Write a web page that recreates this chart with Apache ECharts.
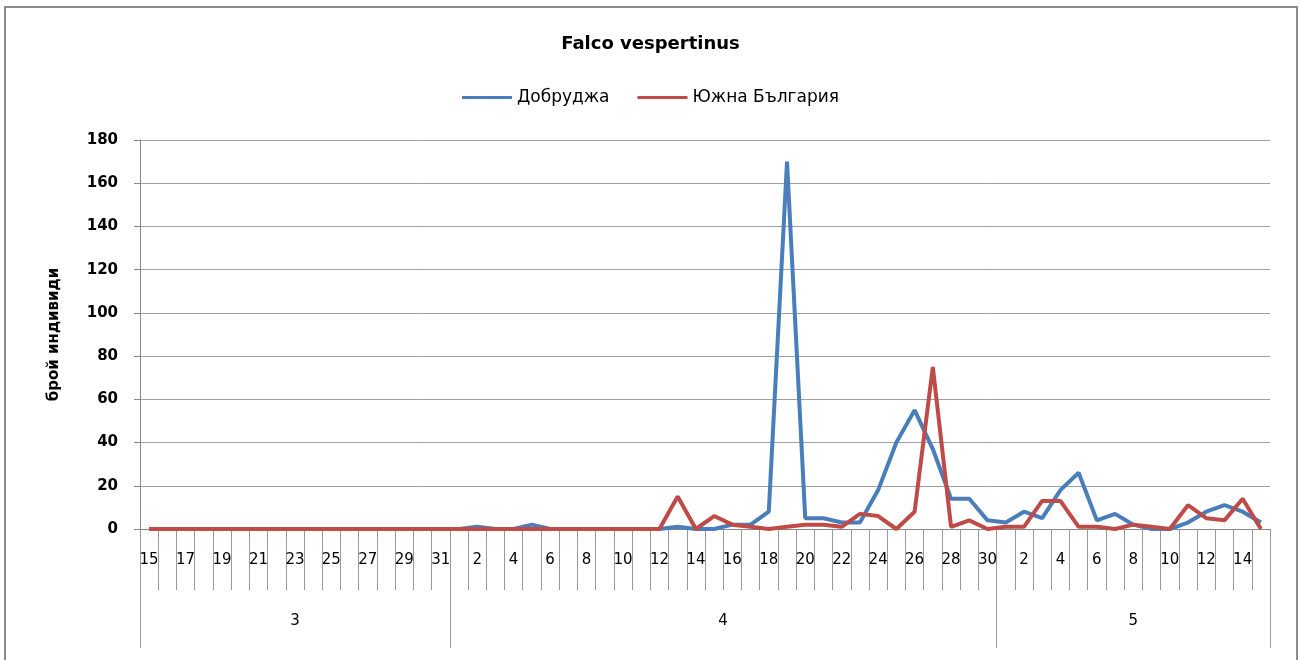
<!DOCTYPE html>
<html>
<head>
<meta charset="utf-8">
<script src="https://cdn.jsdelivr.net/npm/echarts@6/dist/echarts.min.js"></script>
<style>
html,body{margin:0;padding:0;background:#fff;}
#chart{width:1301px;height:660px;}
</style>
</head>
<body>
<div id="chart"></div>
<script>
// Days: 15-31 March, 1-30 April, 1-15 May
const days = [
  '15','16','17','18','19','20','21','22','23','24','25','26','27','28','29','30','31',
  '1','2','3','4','5','6','7','8','9','10','11','12','13','14','15','16','17','18','19','20','21','22','23','24','25','26','27','28','29','30',
  '1','2','3','4','5','6','7','8','9','10','11','12','13','14','15'
];
const months = ['3','4','5'];
const monthLengths = [17, 30, 15];
const yTicks = [0,20,40,60,80,100,120,140,160,180];

const dobrudzha = [
  0,0,0,0,0,0,0,0,0,0,0,0,0,0,0,0,0,
  0,1,0,0,2,0,0,0,0,0,0,0,1,0,0,2,2,8,170,5,5,3,3,18,40,55,37,14,14,4,
  3,8,5,18,26,4,7,2,0,0,3,8,11,8,3
];
const yuzhnaBulgaria = [
  0,0,0,0,0,0,0,0,0,0,0,0,0,0,0,0,0,
  0,0,0,0,0,0,0,0,0,0,0,0,15,0,6,2,1,0,1,2,2,1,7,6,0,8,75,1,4,0,
  1,1,13,13,1,1,0,2,1,0,11,5,4,14,0
];
const seriesNames = ['Добруджа', 'Южна България'];
const colors = ['#4a7ebb', '#be4b48'];

// month axis: ticks at month boundaries, label in middle of each month
const monthStarts = [];
let acc = 0;
monthLengths.forEach(l => { monthStarts.push(acc); acc += l; });
const monthCats = days.map((d, i) => String(i));
function monthLabel(idx) {
  for (let m = 0; m < months.length; m++) {
    const s = monthStarts[m], l = monthLengths[m];
    if (l % 2 === 1) {
      if (idx === s + (l - 1) / 2) return '{c|' + months[m] + '}';
    } else {
      if (idx === s + l / 2 - 1) return '{l|' + months[m] + '}';
    }
  }
  return '';
}

const chart = echarts.init(document.getElementById('chart'));
const fontMain = '"DejaVu Sans", "Liberation Sans", sans-serif';
chart.setOption({
  backgroundColor: '#fff',
  animation: false,
  title: {
    text: 'Falco vespertinus',
    left: 'center',
    top: 30,
    textStyle: { fontFamily: fontMain, fontSize: 18, fontWeight: 'bold', color: '#000' }
  },
  legend: {
    top: 84,
    left: 'center',
    itemWidth: 50,
    itemHeight: 3,
    itemGap: 28,
    icon: 'rect',
    textStyle: { fontFamily: fontMain, fontSize: 17, color: '#000' },
    data: seriesNames
  },
  grid: { left: 140, right: 31, top: 140, bottom: 131, containLabel: false },
  graphic: [{
    type: 'rect',
    shape: { x: 5, y: 7, width: 1292, height: 660 },
    style: { fill: 'none', stroke: '#8c8c8c', lineWidth: 2 },
    silent: true
  }],
  xAxis: [{
    type: 'category',
    data: days,
    boundaryGap: true,
    axisLine: { show: true, lineStyle: { color: '#888', width: 1 } },
    axisTick: { show: true, interval: 0, length: 61, lineStyle: { color: '#999' } },
    axisLabel: { interval: 1, margin: 24, fontFamily: fontMain, fontSize: 15, color: '#000' },
    splitLine: { show: false }
  }, {
    type: 'category',
    data: monthCats,
    position: 'bottom',
    boundaryGap: true,
    axisLine: { show: false },
    axisTick: {
      show: true,
      length: 119,
      interval: function (index) { return monthStarts.indexOf(index) >= 0; },
      lineStyle: { color: '#999' }
    },
    axisLabel: {
      interval: 0,
      margin: 85,
      formatter: function (v, idx) { return monthLabel(idx); },
      rich: {
        c: { fontFamily: fontMain, fontSize: 15, color: '#000' },
        l: { fontFamily: fontMain, fontSize: 15, color: '#000', padding: [0, 0, 0, 18] }
      }
    },
    splitLine: { show: false }
  }],
  yAxis: {
    type: 'value',
    min: 0,
    max: 180,
    interval: 20,
    name: 'брой индивиди',
    nameLocation: 'middle',
    nameGap: 78,
    nameRotate: 90,
    nameTextStyle: { fontFamily: fontMain, fontSize: 15, fontWeight: 'bold', color: '#000' },
    axisLine: { show: true, lineStyle: { color: '#888' } },
    axisTick: { show: true, length: 6, lineStyle: { color: '#888' } },
    axisLabel: {
      margin: 22,
      fontFamily: fontMain, fontSize: 15, fontWeight: 'bold', color: '#000',
      formatter: function (v) { return yTicks.indexOf(v) >= 0 ? String(v) : ''; }
    },
    splitLine: { show: true, lineStyle: { color: '#a0a0a0', width: 1 } }
  },
  series: [{
    name: seriesNames[0],
    type: 'line',
    data: dobrudzha,
    xAxisIndex: 0,
    symbol: 'none',
    color: colors[0],
    lineStyle: { width: 4, color: colors[0] }
  }, {
    name: seriesNames[1],
    type: 'line',
    data: yuzhnaBulgaria,
    xAxisIndex: 0,
    symbol: 'none',
    color: colors[1],
    lineStyle: { width: 4, color: colors[1] }
  }]
});
</script>
</body>
</html>
